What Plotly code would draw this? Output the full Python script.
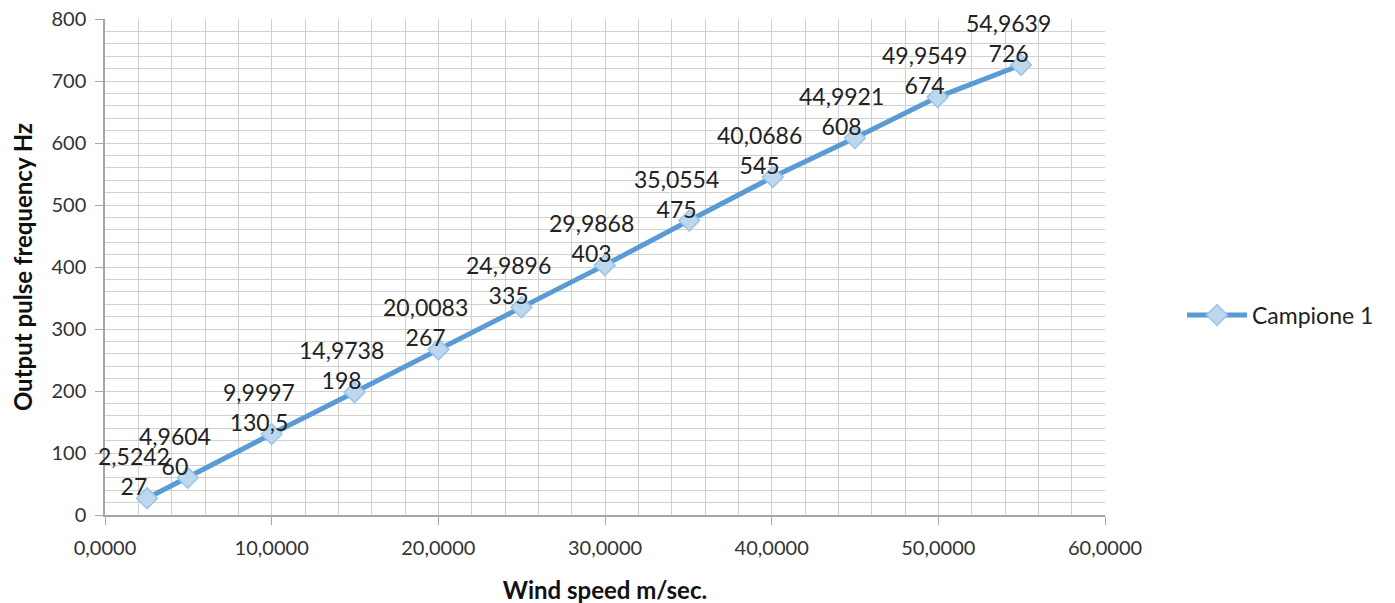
import plotly.graph_objects as go

wind_speed = [2.5242, 4.9604, 9.9997, 14.9738, 20.0083, 24.9896, 29.9868,
              35.0554, 40.0686, 44.9921, 49.9549, 54.9639]
frequency = [27, 60, 130.5, 198, 267, 335, 403, 475, 545, 608, 674, 726]
series_name = "Campione 1"
x_title = "Wind speed m/sec."
y_title = "Output pulse frequency Hz"

FONT = "Lato, Carlito, 'Open Sans', sans-serif"
BLUE = "#5B9BD5"
GRID = "#D0D0D0"


def fmt_y(v):
    s = ("%g" % v)
    return s.replace(".", ",")


fig = go.Figure()
fig.add_trace(go.Scatter(
    x=wind_speed, y=frequency, mode="lines+markers", name=series_name,
    line=dict(color=BLUE, width=5),
    marker=dict(symbol="diamond", size=16, color="#BDD7EE",
                line=dict(color="#9DC3E6", width=1.5)),
))

annotations = []
for xv, yv in zip(wind_speed, frequency):
    annotations.append(dict(
        x=xv, y=yv, xref="x", yref="y",
        text=("%.4f" % xv).replace(".", ",") + "<br>" + fmt_y(yv),
        showarrow=False, xanchor="center", yanchor="bottom",
        xshift=-13, yshift=-4, align="center",
        font=dict(family=FONT, size=23, color="#222222"),
    ))

fig.update_layout(
    width=1395, height=603,
    margin=dict(l=97, r=298, t=11, b=96),
    paper_bgcolor="white", plot_bgcolor="white",
    separators=",.",
    font=dict(family=FONT, size=19, color="#333333"),
    showlegend=True,
    legend=dict(x=1.077, y=0.403, xanchor="left", yanchor="middle",
                font=dict(family=FONT, size=23, color="#222222"),
                itemwidth=60, bgcolor="rgba(0,0,0,0)"),
    annotations=annotations,
    xaxis=dict(
        range=[0, 60], dtick=10, tick0=0, tickformat=".4f",
        automargin=False, ticklabeloverflow="allow",
        showgrid=True, gridcolor=GRID, gridwidth=1,
        minor=dict(dtick=2, showgrid=True, gridcolor=GRID, gridwidth=1),
        showline=True, linecolor="#A6A6A6", linewidth=1.5,
        ticks="outside", ticklen=8, tickcolor="#A6A6A6",
        ticklabelstandoff=6,
        zeroline=False, mirror=False,
        title=dict(text="<b>" + x_title + "</b>", standoff=24,
                   font=dict(family=FONT, size=24, color="#111111")),
        tickfont=dict(family=FONT, size=20, color="#333333"),
    ),
    yaxis=dict(
        range=[0, 800], dtick=100, tick0=0,
        automargin=False, ticklabeloverflow="allow",
        showgrid=True, gridcolor=GRID, gridwidth=1,
        minor=dict(dtick=20, showgrid=True, gridcolor=GRID, gridwidth=1),
        showline=True, linecolor="#A6A6A6", linewidth=1.5,
        ticks="outside", ticklen=8, tickcolor="#A6A6A6",
        ticklabelstandoff=5,
        zeroline=False,
        title=dict(text="<b>" + y_title + "</b>", standoff=20,
                   font=dict(family=FONT, size=24, color="#111111")),
        tickfont=dict(family=FONT, size=20, color="#333333"),
    ),
)

fig.write_html("out.html")
